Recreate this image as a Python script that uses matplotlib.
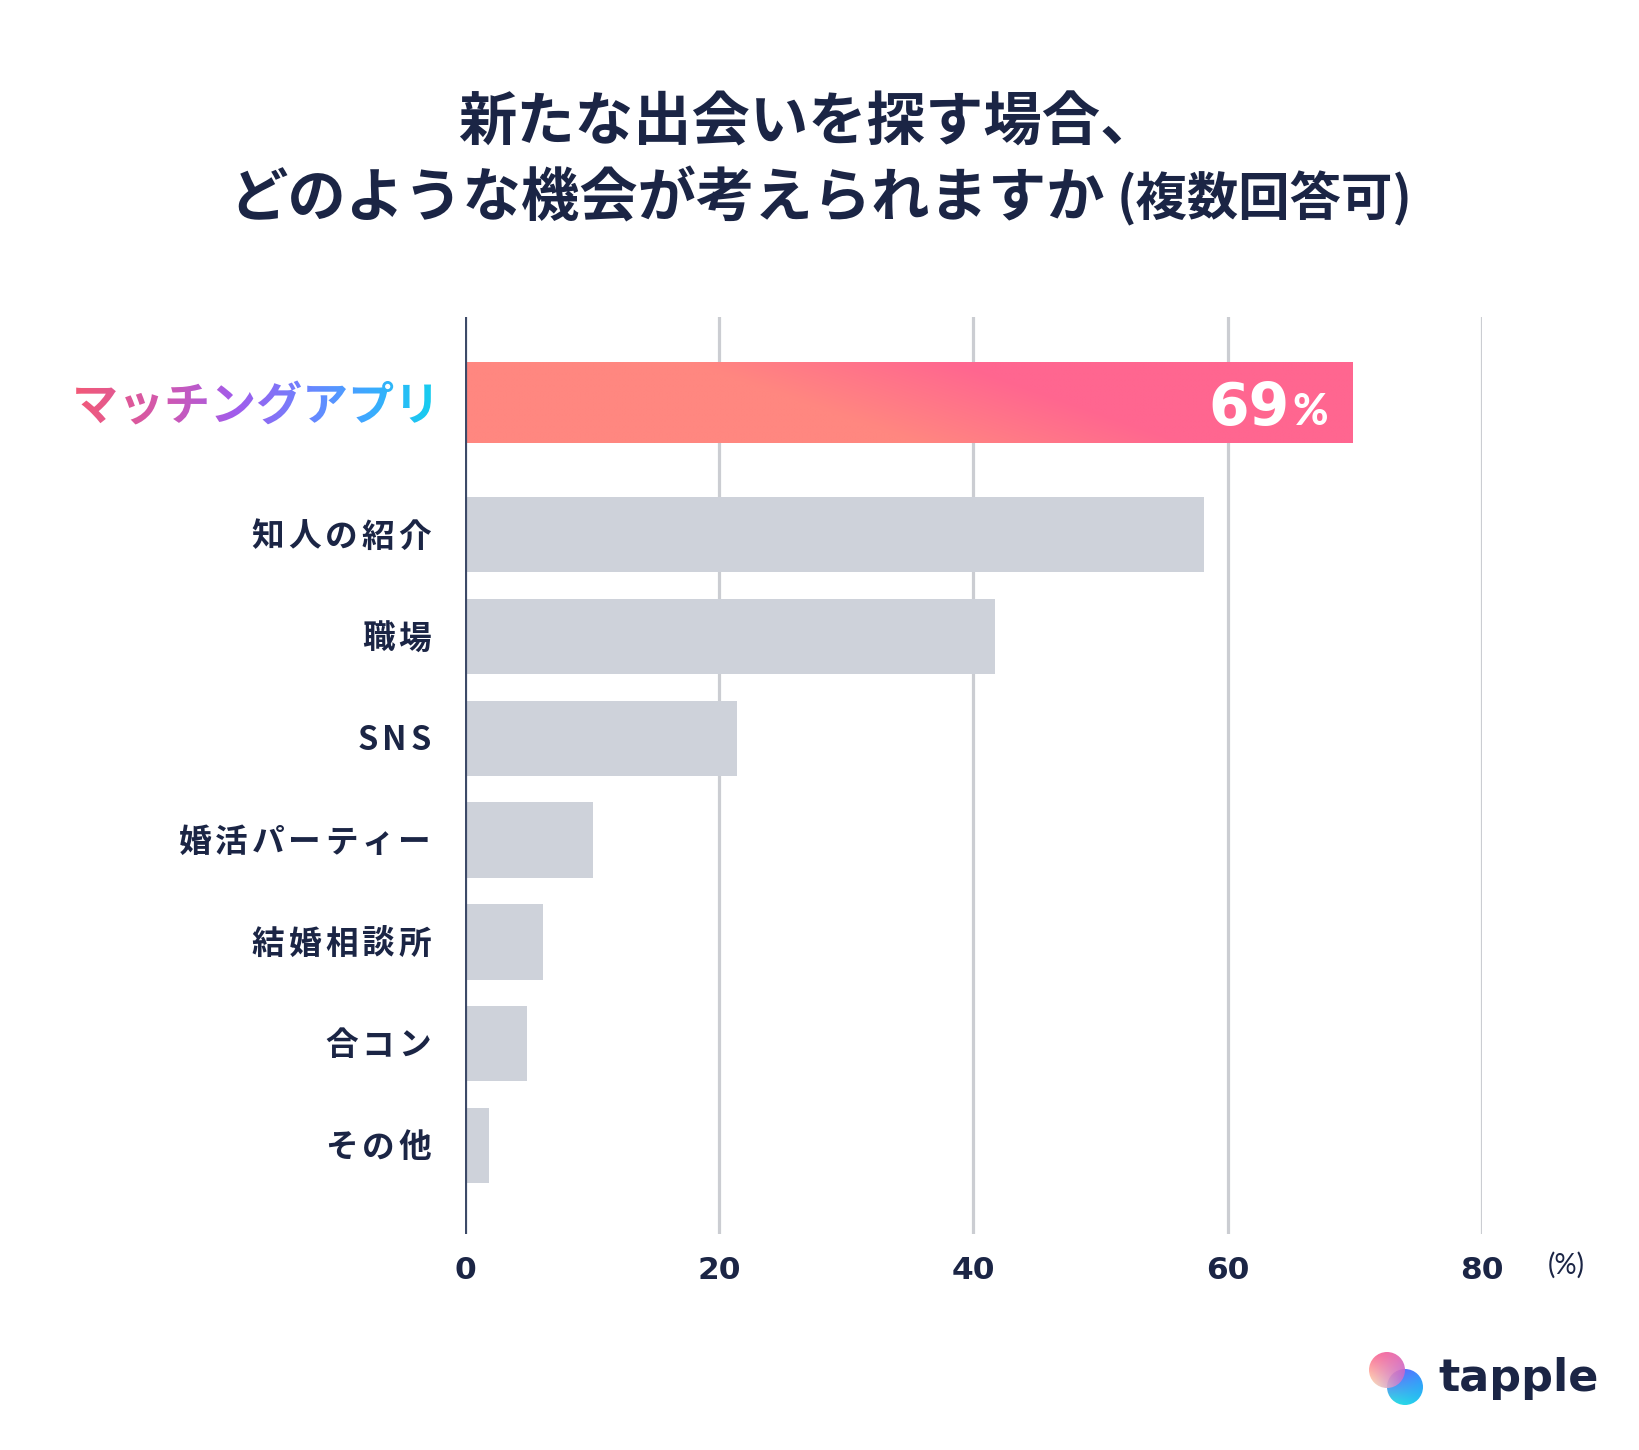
import numpy as np
import matplotlib
matplotlib.use("Agg")
import matplotlib.pyplot as plt
from matplotlib.textpath import TextPath
from matplotlib.font_manager import FontProperties
from matplotlib.patches import PathPatch, Circle
from matplotlib.transforms import Affine2D
from matplotlib.colors import to_rgb

plt.rcParams['font.family'] = ['Noto Sans CJK JP', 'DejaVu Sans']

# ---------------- data ----------------
categories = ['マッチングアプリ', '知人の紹介', '職場', 'SNS', '婚活パーティー', '結婚相談所', '合コン', 'その他']
values = [69.8, 58.1, 41.7, 21.4, 10.1, 6.1, 4.9, 1.9]
highlight_number = '69'
highlight_unit = '%'
xticks = [0, 20, 40, 60, 80]
xtick_labels = ['0', '20', '40', '60', '80']
unit_label = '(%)'
title_line1 = '新たな出会いを探す場合、'
title_line2 = 'どのような機会が考えられますか'
title_note = '(複数回答可)'
brand = 'tapple'

NAVY = '#1B2545'
GRAY_BAR = '#CED2DA'
GRID = '#CBCDD2'
AXIS = '#3D4A68'

W, H = 1640, 1450
fig = plt.figure(figsize=(W / 100, H / 100), dpi=100)
fig.patch.set_facecolor('white')
renderer = fig.canvas.get_renderer()

ax = fig.add_axes([465 / W, 216 / H, (1482 - 465) / W, 917 / H])
ax.set_xlim(0, 80)
ax.set_ylim(7.87, -1.14)
for s in ax.spines.values():
    s.set_visible(False)
ax.set_yticks([])

n = len(categories)
ypos = np.arange(n, dtype=float)
ypos[0] -= 0.30
heights = np.full(n, 0.74)
heights[0] = 0.80

for g in xticks[1:]:
    ax.axvline(g, color=GRID, lw=2.3, zorder=0)

bars = ax.barh(ypos, values, height=heights, color=GRAY_BAR, zorder=2)
bars[0].set_facecolor('none')

# gradient for highlighted bar
nx, ny = 300, 60
xf = np.linspace(0, 1, nx)[None, :]
vf = np.linspace(0, 1, ny)[:, None]
t = np.clip((xf - 0.40 - 0.26 * vf) / 0.30 + 0.5, 0, 1)
c0 = np.array(to_rgb('#FF8780'))
c1 = np.array(to_rgb('#FF6690'))
img = c0[None, None, :] * (1 - t[..., None]) + c1[None, None, :] * t[..., None]
im = ax.imshow(img, extent=[0, values[0], ypos[0] + heights[0] / 2, ypos[0] - heights[0] / 2],
               aspect='auto', origin='upper', zorder=2, interpolation='bilinear')
im.set_clip_path(bars[0])
ax.set_xlim(0, 80)
ax.set_ylim(7.87, -1.14)

ax.axvline(0, color=AXIS, lw=2.3, zorder=5)

ax.set_xticks(xticks)
ax.set_xticklabels(xtick_labels, fontfamily='DejaVu Sans', fontweight='bold',
                   fontsize=22.5, color=NAVY)
ax.tick_params(axis='x', length=0, pad=16)

# ---------------- overlay in pixel coords ----------------
ov = fig.add_axes([0, 0, 1, 1], zorder=10)
ov.axis('off')

def spaced_text(x_right, y_center, s, size_pt, spacing_px, color):
    fp = FontProperties(family=['Noto Sans CJK JP', 'DejaVu Sans'], weight='bold', size=size_pt)
    widths = [renderer.get_text_width_height_descent(c, fp, ismath=False)[0] for c in s]
    total = sum(widths) + spacing_px * (len(s) - 1)
    em = size_pt * 100 / 72
    base = y_center - 0.36 * em
    x = x_right - total
    for c, w in zip(s, widths):
        ov.text(x, base, c, ha='left', va='baseline', fontproperties=fp, color=color)
        x += w + spacing_px

for i in range(1, n):
    yc = ax.transData.transform((0, ypos[i]))[1]
    spaced_text(431, yc, categories[i], 23.5, 4, NAVY)

# gradient label for highlighted category
fp = FontProperties(family='Noto Sans CJK JP', weight='bold')
tp = TextPath((0, 0), categories[0], size=46, prop=fp)
bb = tp.get_extents()
y_c = ax.transData.transform((0, ypos[0]))[1]
dx = 431 - bb.x1
dy = y_c - (bb.y0 + bb.y1) / 2
path = Affine2D().translate(dx, dy).transform_path(tp)
patch = PathPatch(path, facecolor='none', edgecolor='none', transform=ov.transData)
ov.add_patch(patch)
stops = [(0.0, '#F25A78'), (0.25, '#D058B0'), (0.45, '#A15CEC'), (0.65, '#6C84FF'),
         (0.82, '#3DA9FF'), (1.0, '#17CCEF')]
gx = np.linspace(0, 1, 400)
gcols = np.zeros((1, 400, 3))
for k in range(3):
    gcols[0, :, k] = np.interp(gx, [s[0] for s in stops], [to_rgb(s[1])[k] for s in stops])
gim = ov.imshow(gcols, extent=[bb.x0 + dx, bb.x1 + dx, bb.y0 + dy, bb.y1 + dy],
                aspect='auto', interpolation='bilinear')
gim.set_clip_path(patch)

# value label in highlighted bar
ov.text(1290, 1025, highlight_number, ha='right', va='baseline', fontsize=42,
        fontfamily='DejaVu Sans', fontweight='bold', color='white')
ov.text(1328, 1025, highlight_unit, ha='right', va='baseline', fontsize=31,
        fontfamily=['Lato', 'DejaVu Sans'], fontweight='black', color='white')

# unit
ov.text(1566, 185, unit_label, ha='center', va='center', fontsize=20,
        fontfamily=['Lato', 'DejaVu Sans'], fontweight='normal', color=NAVY)

# title
ov.text(808, 1327, title_line1, ha='center', va='center', fontsize=42, fontweight='bold', color=NAVY)
t_main = ov.text(0, 1251, title_line2, ha='left', va='center', fontsize=42, fontweight='bold', color=NAVY)
t_note = ov.text(0, 1251, title_note, ha='left', va='center', fontsize=37, fontweight='bold', color=NAVY)
w1 = t_main.get_window_extent(renderer).width
w2 = t_note.get_window_extent(renderer).width
gap = 12
x_start = 821 - (w1 + gap + w2) / 2
t_main.set_x(x_start)
t_note.set_x(x_start + w1 + gap)

# logo
def grad_circle(cx, cy, r, corners, alpha=1.0, z=1):
    tl, tr, bl, br = [np.array(to_rgb(c)) for c in corners]
    m = 80
    u = np.linspace(0, 1, m)[None, :, None]
    v = np.linspace(0, 1, m)[:, None, None]
    arr = (tl * (1 - u) * (1 - v) + tr * u * (1 - v) + bl * (1 - u) * v + br * u * v)
    c = Circle((cx, cy), r, facecolor='none', edgecolor='none', transform=ov.transData)
    ov.add_patch(c)
    im2 = ov.imshow(arr, extent=[cx - r, cx + r, cy - r, cy + r], origin='upper',
                    aspect='auto', alpha=alpha, zorder=z, interpolation='bilinear')
    im2.set_clip_path(c)

grad_circle(1405, 63, 18, ['#7A55FF', '#3A8CFF', '#30E6E0', '#20C8F0'], z=1)
grad_circle(1387, 80, 18, ['#FF5E8A', '#E060B0', '#FFEBB0', '#B872E0'], alpha=0.9, z=2)

ov.text(1438, 59, brand, ha='left', va='baseline', fontsize=32,
        fontfamily='DejaVu Sans', fontweight='bold', color=NAVY)

ov.set_xlim(0, W)
ov.set_ylim(0, H)

fig.savefig('out.png', dpi=100, facecolor='white')
